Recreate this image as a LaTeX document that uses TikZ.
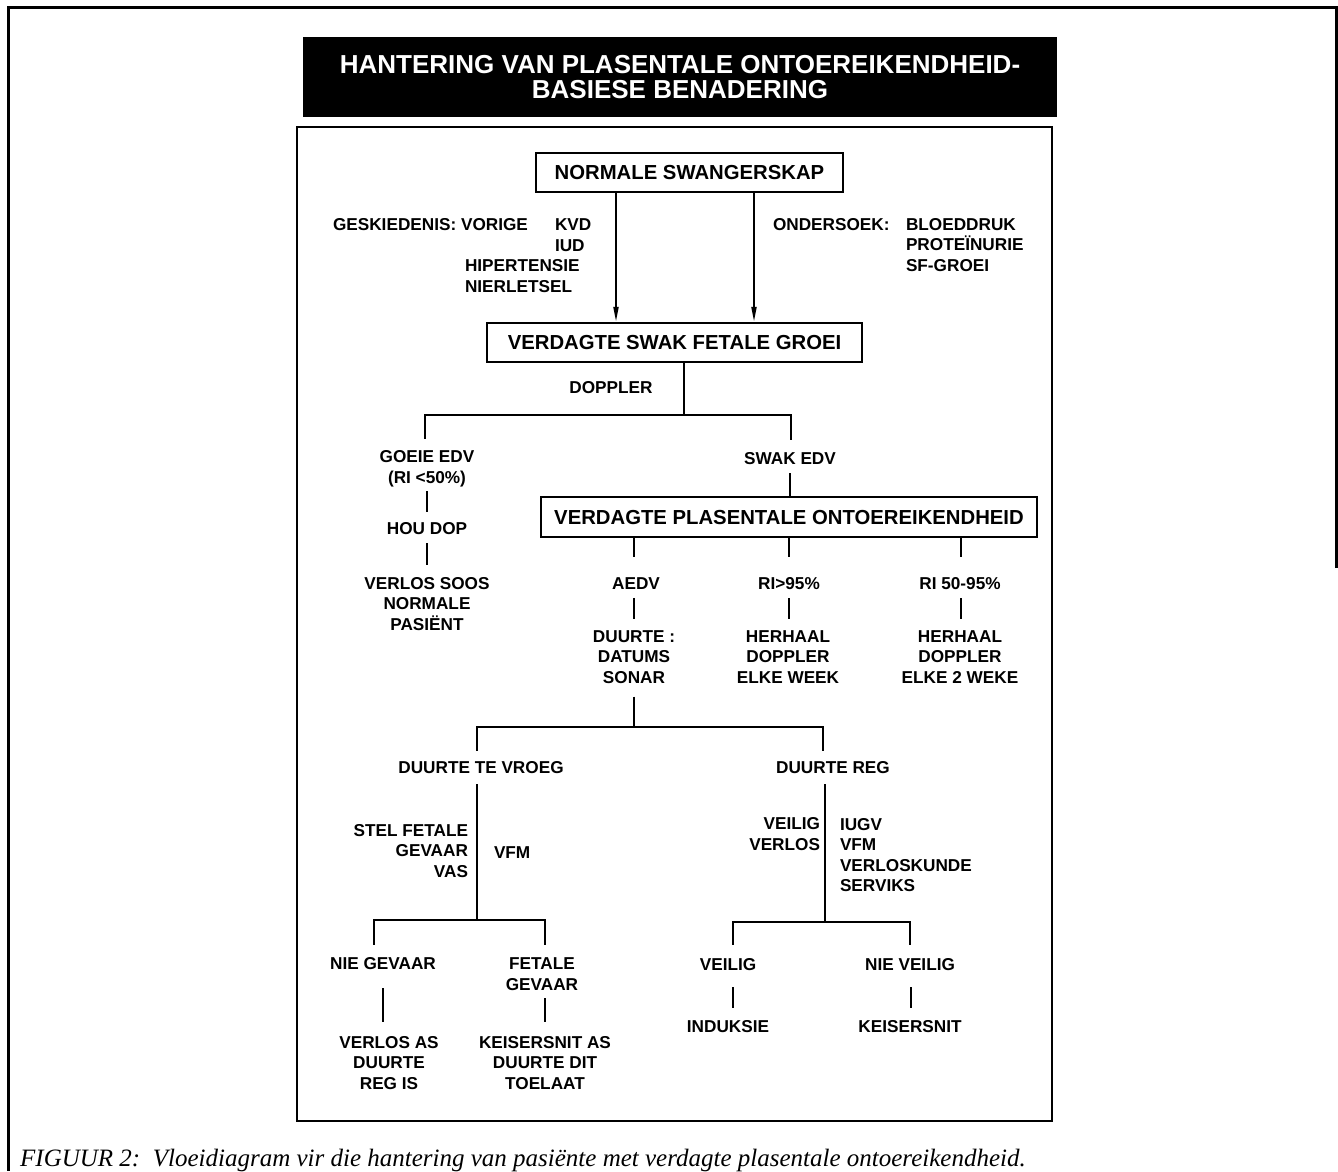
\documentclass[tikz,border=0pt]{standalone}
\usepackage{fontspec}
\setmainfont{Liberation Sans}
\newfontfamily\capfont{Liberation Serif}
\usetikzlibrary{arrows.meta}
\begin{document}
\begin{tikzpicture}[x=1pt,y=-1pt,
  t/.style={font=\bfseries\fontsize{17.2}{20.5}\selectfont, inner sep=0pt, outer sep=0pt, align=center},
  bx/.style={draw, line width=2.4pt, inner sep=0pt, font=\bfseries\fontsize{20.3}{21}\selectfont},
  ln/.style={line width=2pt},
  arr/.style={ln, -{Triangle[length=15pt,width=5pt]}}]
\useasboundingbox (0,0) rectangle (1338,1171);
% outer frame
\draw[line width=3pt] (1336.5,568) -- (1336.5,7) -- (8,7) -- (8,1171);
% title
\node[fill=black, minimum width=754pt, minimum height=80pt, inner sep=0pt, text=white,
  font=\bfseries\fontsize{26}{25}\selectfont, align=center] (title) at (680,77)
  {HANTERING VAN PLASENTALE ONTOEREIKENDHEID-\\BASIESE BENADERING};
% inner frame
\draw[line width=2pt] (297,127) rectangle (1052,1121);
% boxes
\node[bx, minimum width=307pt, minimum height=39pt] (n1) at (689.5,172.5) {NORMALE SWANGERSKAP};
\node[bx, minimum width=375pt, minimum height=39pt] (n2) at (674.5,342.5) {VERDAGTE SWAK FETALE GROEI};
\node[bx, minimum width=496pt, minimum height=40pt] (n3) at (789,517) {VERDAGTE PLASENTALE ONTOEREIKENDHEID};
% side labels
\node[t, anchor=west] (ges) at (333,225) {GESKIEDENIS: VORIGE};
\node[t, anchor=west, align=left] (kvd) at (555,235) {KVD\\IUD};
\node[t, anchor=west, align=left] (hip) at (465,276) {HIPERTENSIE\\NIERLETSEL};
\node[t, anchor=west] (ond) at (773,225) {ONDERSOEK:};
\node[t, anchor=west, align=left] (blo) at (906,245) {BLOEDDRUK\\PROTEÏNURIE\\SF-GROEI};
\coordinate (xa) at (616,0);
\coordinate (xb) at (754,0);
\draw[arr] (n1.south -| xa) -- (n2.north -| xa);
\draw[arr] (n1.south -| xb) -- (n2.north -| xb);
% doppler level
\node[t] (dop) at (611,388) {DOPPLER};
\node[t] (goeie) at (427,469) {GOEIE EDV\\(RI <50\%)};
\node[t] (hou) at (427,529) {HOU DOP};
\node[t] (vsoos) at (427,604) {VERLOS SOOS\\NORMALE\\PASIËNT};
\node[t] (swak) at (790,459) {SWAK EDV};
\coordinate (d1) at (684,415);
\coordinate (b1L) at (425,415);
\coordinate (b1R) at (791,415);
\draw[ln] (n2.south -| d1) -- (d1);
\draw[ln, shorten <=12pt, shorten >=13pt] (goeie.north -| b1L) -- (b1L) -- (b1R) -- (swak.north -| b1R);
\draw[ln, shorten <=4pt, shorten >=11pt] (goeie.south) -- (hou.north);
\draw[ln, shorten <=8pt, shorten >=12pt] (hou.south) -- (vsoos.north);
\draw[ln, shorten <=8pt] (swak.south) -- (swak.south |- n3.north);
% level 3
\node[t] (aedv) at (636,584) {AEDV};
\node[t] (ri95) at (789,584) {RI>95\%};
\node[t] (ri50) at (960,584) {RI 50-95\%};
\node[t] (duurte) at (634,657) {DUURTE :\\DATUMS\\SONAR};
\node[t] (herh1) at (788,657) {HERHAAL\\DOPPLER\\ELKE WEEK};
\node[t] (herh2) at (960,657) {HERHAAL\\DOPPLER\\ELKE 2 WEKE};
\coordinate (xc) at (634,0);
\coordinate (xd) at (961,0);
\draw[ln, shorten >=21pt] (n3.south -| xc) -- (aedv.north -| xc);
\draw[ln, shorten >=21pt] (n3.south -| ri95) -- (ri95.north);
\draw[ln, shorten >=21pt] (n3.south -| xd) -- (ri50.north -| xd);
\draw[ln, shorten <=8pt, shorten >=12pt] (aedv.south -| xc) -- (duurte.north -| xc);
\draw[ln, shorten <=8pt, shorten >=12pt] (ri95.south) -- (herh1.north -| ri95);
\draw[ln, shorten <=8pt, shorten >=12pt] (ri50.south -| xd) -- (herh2.north -| xd);
% duurte split
\node[t] (vroeg) at (481,768) {DUURTE TE VROEG};
\node[t] (reg) at (833,768) {DUURTE REG};
\coordinate (d2) at (634,727);
\coordinate (b2L) at (477,727);
\coordinate (b2R) at (823,727);
\draw[ln, shorten <=13pt] (duurte.south -| d2) -- (d2);
\draw[ln, shorten <=11pt, shorten >=11pt] (vroeg.north -| b2L) -- (b2L) -- (b2R) -- (reg.north -| b2R);
\node[t, anchor=east, align=right] (stel) at (468,851) {STEL FETALE\\GEVAAR\\VAS};
\node[t, anchor=west] (vfm) at (494,853) {VFM};
\node[t, anchor=east, align=right] (veilv) at (820,834) {VEILIG\\VERLOS};
\node[t, anchor=west, align=left] (iugv) at (840,855) {IUGV\\VFM\\VERLOSKUNDE\\SERVIKS};
% bottom branches
\coordinate (b3) at (477,920);
\coordinate (b3L) at (374,920);
\coordinate (b3R) at (545,920);
\coordinate (b4) at (825,922);
\coordinate (b4L) at (733,922);
\coordinate (b4R) at (910,922);
\node[t] (niegev) at (383,964) {NIE GEVAAR};
\node[t] (fetgev) at (542,974) {FETALE\\GEVAAR};
\node[t] (veilig) at (728,965) {VEILIG};
\node[t] (nieveilig) at (910,965) {NIE VEILIG};
\draw[ln, shorten <=10pt] (vroeg.south -| b3) -- (b3);
\draw[ln, shorten <=10pt] (reg.south -| b4) -- (b4);
\draw[ln, shorten <=13pt, shorten >=13pt] (niegev.north -| b3L) -- (b3L) -- (b3R) -- (fetgev.north -| b3R);
\draw[ln, shorten <=14pt, shorten >=14pt] (veilig.north -| b4L) -- (b4L) -- (b4R) -- (nieveilig.north -| b4R);
\node[t] (verlosas) at (389,1063) {VERLOS AS\\DUURTE\\REG IS};
\node[t] (keis1) at (545,1063) {KEISERSNIT AS\\DUURTE DIT\\TOELAAT};
\node[t] (induk) at (728,1027) {INDUKSIE};
\node[t] (keis2) at (910,1027) {KEISERSNIT};
\coordinate (xe) at (383,0);
\coordinate (xf) at (545,0);
\coordinate (xg) at (733,0);
\coordinate (xh) at (911,0);
\draw[ln, shorten <=18pt, shorten >=14pt] (niegev.south -| xe) -- (verlosas.north -| xe);
\draw[ln, shorten <=8pt, shorten >=14pt] (fetgev.south -| xf) -- (keis1.north -| xf);
\draw[ln, shorten <=16pt, shorten >=13pt] (veilig.south -| xg) -- (induk.north -| xg);
\draw[ln, shorten <=16pt, shorten >=13pt] (nieveilig.south -| xh) -- (keis2.north -| xh);
% caption
\node[anchor=base west, inner sep=0pt, font=\capfont\itshape\fontsize{25}{25}\selectfont] (cap) at (20,1166)
  {FIGUUR 2:\ \ Vloeidiagram vir die hantering van pasiënte met verdagte plasentale ontoereikendheid.};
\end{tikzpicture}
\end{document}
